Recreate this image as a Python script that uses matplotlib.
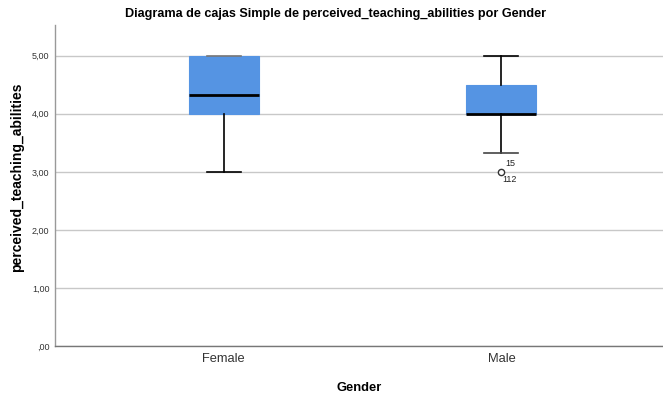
import matplotlib
matplotlib.use("Agg")
import matplotlib.pyplot as plt

categories = ["Female", "Male"]
q1 = [4.00, 4.00]
medians = [4.33, 4.00]
q3 = [5.00, 4.50]
whisker_low = [3.00, 3.33]
whisker_high = [5.00, 5.00]
outliers = [[], [3.00]]
outlier_labels = [[], ["15", "112"]]
yticks = [0, 1, 2, 3, 4, 5]
ytick_labels = [",00", "1,00", "2,00", "3,00", "4,00", "5,00"]

plt.rcParams['font.family'] = ['Liberation Sans', 'DejaVu Sans']

fig = plt.figure(figsize=(6.63, 3.93), dpi=100)
ax = fig.add_axes([55/663, 1-346/393, 608/663, 321/393])

stats = []
for i, c in enumerate(categories):
    stats.append(dict(label=c, q1=q1[i], med=medians[i], q3=q3[i],
                      whislo=whisker_low[i], whishi=whisker_high[i],
                      fliers=outliers[i]))

positions = list(range(len(categories)))
bp = ax.bxp(stats, positions=positions, widths=0.252, patch_artist=True,
            showfliers=True,
            boxprops=dict(facecolor='#5594e3', edgecolor='#5594e3', linewidth=0.8),
            medianprops=dict(color='black', linewidth=2.0),
            whiskerprops=dict(color='black', linewidth=1.2),
            capprops=dict(color='black', linewidth=1.2),
            capwidths=0.122,
            flierprops=dict(marker='o', markersize=4.5, markerfacecolor='white',
                            markeredgecolor='#333333', markeredgewidth=1.0))
for box in bp['boxes']:
    box.set_zorder(2)
# Female upper cap overlaps box top -> appears gray
bp['caps'][1].set_color('#777777')
bp['caps'][2].set_color('#444444')

for i, labs in enumerate(outlier_labels):
    if labs:
        ax.annotate(labs[0], (positions[i], outliers[i][0]), xytext=(3, 3),
                    textcoords='offset points', fontsize=6.5, color='#222222',
                    ha='left', va='bottom')
        ax.annotate(labs[1], (positions[i], outliers[i][0]), xytext=(1, -2.5),
                    textcoords='offset points', fontsize=6.5, color='#222222',
                    ha='left', va='top')

ax.set_xlim(-0.608, 1.582)
ax.set_ylim(0, 5.53)
ax.set_yticks(yticks)
ax.set_yticklabels(ytick_labels)
ax.set_xticks(positions)
ax.set_xticklabels(categories)
ax.yaxis.grid(True, color='#c8c8c8', linewidth=1.0)
ax.set_axisbelow(True)
ax.tick_params(axis='y', length=0, labelsize=6.5, labelcolor='#333333', pad=4)
ax.tick_params(axis='x', length=0, labelsize=9.3, labelcolor='#333333', pad=5)
for s in ['top', 'right']:
    ax.spines[s].set_visible(False)
ax.spines['left'].set_color('#999999')
ax.spines['bottom'].set_color('#777777')
for s in ['left', 'bottom']:
    ax.spines[s].set_linewidth(1.0)

ax.set_xlabel("Gender", fontsize=9.3, fontweight='bold', labelpad=12)
ax.set_ylabel("perceived_teaching_abilities", fontsize=10, fontweight='bold')
ax.yaxis.set_label_coords((24 - 55) / 608, (346 - 177) / 321)
fig.text(336/663, 1 - 14/393,
         "Diagrama de cajas Simple de perceived_teaching_abilities por Gender",
         ha='center', va='center', fontsize=9.1, fontweight='bold')

fig.savefig("out.png", dpi=100)
